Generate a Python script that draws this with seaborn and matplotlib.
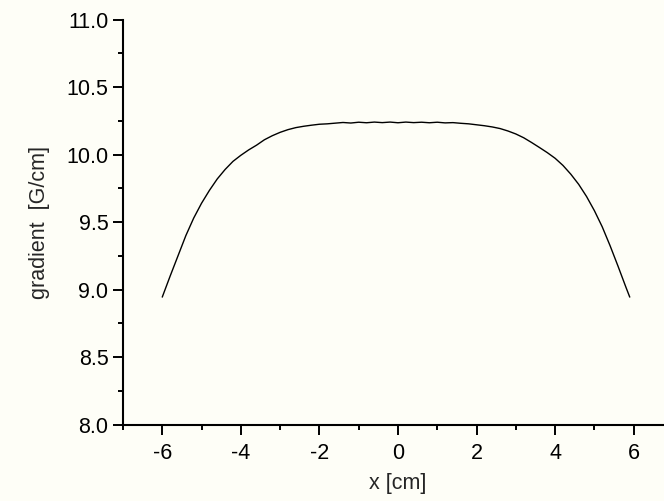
import matplotlib
matplotlib.use("Agg")
import matplotlib.pyplot as plt
from matplotlib.ticker import MultipleLocator
import seaborn as sns
import pandas as pd

# Field gradient profile across the magnet bore
x_cm = [-6.0, -5.8, -5.6, -5.4, -5.2, -5.0, -4.8, -4.6, -4.4, -4.2,
        -4.0, -3.8, -3.6, -3.4, -3.2, -3.0, -2.8, -2.6, -2.4, -2.2,
        -2.0, -1.8, -1.6, -1.4, -1.2, -1.0, -0.8, -0.6, -0.4, -0.2,
        0.0, 0.2, 0.4, 0.6, 0.8, 1.0, 1.2, 1.4, 1.6, 1.8,
        2.0, 2.2, 2.4, 2.6, 2.8, 3.0, 3.2, 3.4, 3.6, 3.8,
        4.0, 4.2, 4.4, 4.6, 4.8, 5.0, 5.2, 5.4, 5.6, 5.8, 5.9]
gradient = [8.945, 9.10, 9.25, 9.40, 9.53, 9.64, 9.735, 9.82, 9.89, 9.95,
            9.995, 10.035, 10.07, 10.11, 10.14, 10.165, 10.185, 10.20, 10.21, 10.218,
            10.225, 10.228, 10.233, 10.238, 10.234, 10.240, 10.236, 10.241, 10.237, 10.241,
            10.236, 10.241, 10.237, 10.240, 10.236, 10.240, 10.235, 10.237, 10.232, 10.228,
            10.221, 10.214, 10.205, 10.193, 10.175, 10.153, 10.125, 10.09, 10.053, 10.015,
            9.973, 9.92, 9.855, 9.78, 9.69, 9.585, 9.465, 9.325, 9.175, 9.02, 8.945]

x_ticks = [-6, -4, -2, 0, 2, 4, 6]
y_ticks = [8.0, 8.5, 9.0, 9.5, 10.0, 10.5, 11.0]

df = pd.DataFrame({"x": x_cm, "g": gradient})

sns.set_style("ticks")
plt.rcParams["font.family"] = ["Liberation Sans", "DejaVu Sans"]
plt.rcParams["font.size"] = 15.5

bg = "#fefef7"
fig = plt.figure(figsize=(6.64, 5.01), dpi=100, facecolor=bg)
ax = fig.add_axes([0.1852, 0.1523, 0.8283, 0.8086], facecolor=bg)

sns.lineplot(data=df, x="x", y="g", ax=ax, color="black", linewidth=1.0,
             estimator=None, sort=False)

ax.set_xlim(-7, 7)
ax.set_ylim(8.0, 11.0)
ax.set_xticks(x_ticks)
ax.set_xticklabels([str(t) for t in x_ticks])
ax.set_yticks(y_ticks)
ax.set_yticklabels([f"{t:.1f}" for t in y_ticks])
ax.xaxis.set_minor_locator(MultipleLocator(1))
ax.yaxis.set_minor_locator(MultipleLocator(0.25))

for side in ("top", "right"):
    ax.spines[side].set_visible(False)
for side in ("left", "bottom"):
    ax.spines[side].set_linewidth(1.5)
    ax.spines[side].set_color("black")

ax.tick_params(which="major", direction="out", length=7, width=1.4,
               color="black", labelsize=15.5, labelcolor="black")
ax.tick_params(axis="y", which="major", pad=3.5)
ax.tick_params(axis="x", which="major", pad=6)
ax.tick_params(which="minor", direction="out", length=3.5, width=1.4, color="black")

ax.set_xlabel("x [cm]", fontsize=15.5, labelpad=7)
ax.set_ylabel("gradient  [G/cm]", fontsize=15.5, labelpad=12)

fig.savefig("out.png", dpi=100, facecolor=bg)
